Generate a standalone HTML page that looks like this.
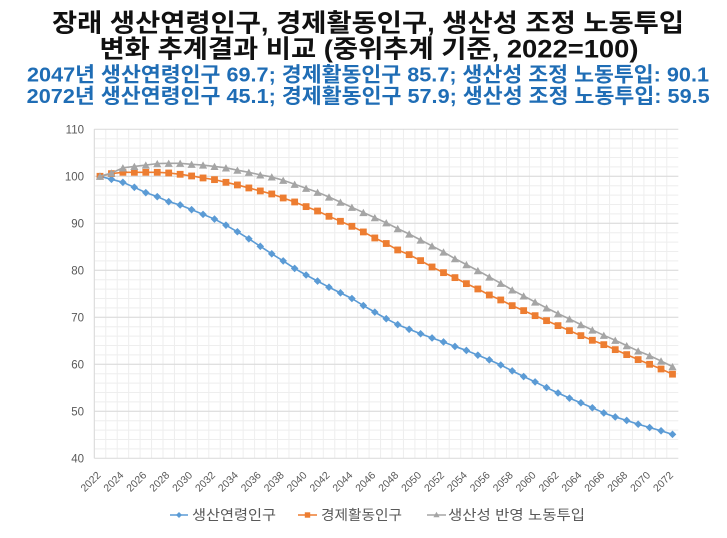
<!DOCTYPE html>
<html lang="ko">
<head>
<meta charset="utf-8">
<style>
  html,body{margin:0;padding:0;background:#fff;}
  svg{display:block;}
  text{font-family:"Liberation Sans","Noto Sans CJK KR",sans-serif;}
</style>
</head>
<body>
<svg width="727" height="538" viewBox="0 0 727 538" xmlns="http://www.w3.org/2000/svg">
  <defs>
    <marker id="md" markerWidth="10" markerHeight="10" refX="5" refY="5" markerUnits="userSpaceOnUse">
      <path d="M5 1.2 L8.8 5 L5 8.8 L1.2 5Z" fill="#5B9BD5"/>
    </marker>
    <marker id="ms" markerWidth="10" markerHeight="10" refX="5" refY="5" markerUnits="userSpaceOnUse">
      <rect x="1.6" y="1.6" width="6.8" height="6.8" fill="#ED7D31"/>
    </marker>
    <marker id="mt" markerWidth="10" markerHeight="10" refX="5" refY="5" markerUnits="userSpaceOnUse">
      <path d="M5 1.3 L9.1 8.6 L0.9 8.6Z" fill="#A5A5A5"/>
    </marker>
    <marker id="lmd" markerWidth="8" markerHeight="8" refX="4" refY="4" markerUnits="userSpaceOnUse">
      <path d="M4 1 L7 4 L4 7 L1 4Z" fill="#5B9BD5"/>
    </marker>
  </defs>

  <rect width="727" height="538" fill="#fff"/>

  <!-- Titles -->
  <text x="368" y="31.5" font-size="25" font-weight="bold" fill="#111" text-anchor="middle" textLength="632" lengthAdjust="spacingAndGlyphs">장래 생산연령인구, 경제활동인구, 생산성 조정 노동투입</text>
  <text x="369" y="57.5" font-size="25" font-weight="bold" fill="#111" text-anchor="middle" textLength="539" lengthAdjust="spacingAndGlyphs">변화 추계결과 비교 (중위추계 기준, 2022=100)</text>
  <text x="368" y="81.5" font-size="20.5" font-weight="bold" fill="#1F6DB5" text-anchor="middle" textLength="682" lengthAdjust="spacingAndGlyphs">2047년 생산연령인구 69.7; 경제활동인구 85.7; 생산성 조정 노동투입: 90.1</text>
  <text x="368.2" y="103" font-size="20.5" font-weight="bold" fill="#1F6DB5" text-anchor="middle" textLength="683" lengthAdjust="spacingAndGlyphs">2072년 생산연령인구 45.1; 경제활동인구 57.9; 생산성 조정 노동투입: 59.5</text>

  <!-- Minor gridlines -->
  <path stroke="#eeeeee" stroke-width="1" fill="none" d="M94.3 129.3v329m11.45 -329v329m11.45 -329v329m11.45 -329v329m11.45 -329v329m11.45 -329v329m11.45 -329v329m11.45 -329v329m11.45 -329v329m11.45 -329v329m11.45 -329v329m11.45 -329v329m11.45 -329v329m11.45 -329v329m11.45 -329v329m11.45 -329v329m11.45 -329v329m11.45 -329v329m11.45 -329v329m11.45 -329v329m11.45 -329v329m11.45 -329v329m11.45 -329v329m11.45 -329v329m11.45 -329v329m11.45 -329v329m11.45 -329v329m11.45 -329v329m11.45 -329v329m11.45 -329v329m11.45 -329v329m11.45 -329v329m11.45 -329v329m11.45 -329v329m11.45 -329v329m11.45 -329v329m11.45 -329v329m11.45 -329v329m11.45 -329v329m11.45 -329v329m11.45 -329v329m11.45 -329v329m11.45 -329v329m11.45 -329v329m11.45 -329v329m11.45 -329v329m11.45 -329v329m11.45 -329v329m11.45 -329v329m11.45 -329v329m11.45 -329v329"/>
  <path stroke="#eeeeee" stroke-width="1" fill="none" d="M94.3 138.7h584m-584 9.4h584m-584 9.4h584m-584 9.4h584m-584 9.4h584m-584 9.4h584m-584 9.4h584m-584 9.4h584m-584 9.4h584m-584 9.4h584m-584 9.4h584m-584 9.4h584m-584 9.4h584m-584 9.4h584m-584 9.4h584m-584 9.4h584m-584 9.4h584m-584 9.4h584m-584 9.4h584m-584 9.4h584m-584 9.4h584m-584 9.4h584m-584 9.4h584m-584 9.4h584m-584 9.4h584m-584 9.4h584m-584 9.4h584m-584 9.4h584m-584 9.4h584m-584 9.4h584m-584 9.4h584m-584 9.4h584m-584 9.4h584m-584 9.4h584"/>

  <!-- Major gridlines -->
  <path stroke="#d9d9d9" stroke-width="1" fill="none" d="M94.3 129.3h584M94.3 176.3h584M94.3 223.3h584M94.3 270.3h584M94.3 317.3h584M94.3 364.3h584M94.3 411.3h584M94.3 458.3h584M94.3 129.3V458.3"/>

  <!-- Y labels -->
  <g font-size="11.5" fill="#595959" text-anchor="end">
    <text x="84" y="133.5">110</text>
    <text x="84" y="180.5">100</text>
    <text x="84" y="227.5">90</text>
    <text x="84" y="274.5">80</text>
    <text x="84" y="321.5">70</text>
    <text x="84" y="368.5">60</text>
    <text x="84" y="415.5">50</text>
    <text x="84" y="462.5">40</text>
  </g>

  <!-- X labels -->
  <g font-size="10.5" fill="#595959" text-anchor="middle">
    <text transform="translate(90.5 481.5) rotate(-45)" y="3.7">2022</text>
    <text transform="translate(113.4 481.5) rotate(-45)" y="3.7">2024</text>
    <text transform="translate(136.3 481.5) rotate(-45)" y="3.7">2026</text>
    <text transform="translate(159.2 481.5) rotate(-45)" y="3.7">2028</text>
    <text transform="translate(182.1 481.5) rotate(-45)" y="3.7">2030</text>
    <text transform="translate(205 481.5) rotate(-45)" y="3.7">2032</text>
    <text transform="translate(227.9 481.5) rotate(-45)" y="3.7">2034</text>
    <text transform="translate(250.8 481.5) rotate(-45)" y="3.7">2036</text>
    <text transform="translate(273.7 481.5) rotate(-45)" y="3.7">2038</text>
    <text transform="translate(296.6 481.5) rotate(-45)" y="3.7">2040</text>
    <text transform="translate(319.5 481.5) rotate(-45)" y="3.7">2042</text>
    <text transform="translate(342.4 481.5) rotate(-45)" y="3.7">2044</text>
    <text transform="translate(365.3 481.5) rotate(-45)" y="3.7">2046</text>
    <text transform="translate(388.2 481.5) rotate(-45)" y="3.7">2048</text>
    <text transform="translate(411.1 481.5) rotate(-45)" y="3.7">2050</text>
    <text transform="translate(434 481.5) rotate(-45)" y="3.7">2052</text>
    <text transform="translate(456.9 481.5) rotate(-45)" y="3.7">2054</text>
    <text transform="translate(479.8 481.5) rotate(-45)" y="3.7">2056</text>
    <text transform="translate(502.7 481.5) rotate(-45)" y="3.7">2058</text>
    <text transform="translate(525.6 481.5) rotate(-45)" y="3.7">2060</text>
    <text transform="translate(548.5 481.5) rotate(-45)" y="3.7">2062</text>
    <text transform="translate(571.4 481.5) rotate(-45)" y="3.7">2064</text>
    <text transform="translate(594.3 481.5) rotate(-45)" y="3.7">2066</text>
    <text transform="translate(617.2 481.5) rotate(-45)" y="3.7">2068</text>
    <text transform="translate(640.1 481.5) rotate(-45)" y="3.7">2070</text>
    <text transform="translate(663 481.5) rotate(-45)" y="3.7">2072</text>
  </g>

  <!-- Series: 생산연령인구 (blue) -->
  <polyline fill="none" stroke="#5B9BD5" stroke-width="1.6" stroke-linejoin="round" marker-start="url(#md)" marker-mid="url(#md)" marker-end="url(#md)"
    points="100,176.3 111.45,179.31 122.9,182.32 134.35,187.3 145.8,192.66 157.25,196.65 168.7,201.68 180.15,204.97 191.6,209.67 203.05,214.37 214.5,219.07 225.95,225.18 237.4,231.76 248.85,238.81 260.3,246.33 271.75,253.85 283.2,260.9 294.65,268.42 306.1,275 317.55,281.11 329,287.22 340.45,292.86 351.9,298.5 363.35,305.55 374.8,312.13 386.25,318.71 397.7,324.59 409.15,329.29 420.6,333.75 432.05,337.98 443.5,341.98 454.95,346.44 466.4,350.44 477.85,355.14 489.3,359.84 500.75,365.01 512.2,370.88 523.65,376.52 535.1,381.93 546.55,387.57 558,392.97 569.45,398.14 580.9,402.84 592.35,407.78 603.8,412.95 615.25,416.94 626.7,420.47 638.15,424.23 649.6,427.52 661.05,430.81 672.5,434.33"/>

  <!-- Series: 경제활동인구 (orange) -->
  <polyline fill="none" stroke="#ED7D31" stroke-width="1.6" stroke-linejoin="round" marker-start="url(#ms)" marker-mid="url(#ms)" marker-end="url(#ms)"
    points="100,176.3 111.45,173.62 122.9,172.3 134.35,172.3 145.8,172.3 157.25,172.3 168.7,172.96 180.15,174.28 191.6,175.97 203.05,177.95 214.5,179.64 225.95,182.32 237.4,184.95 248.85,187.96 260.3,190.96 271.75,193.97 283.2,197.97 294.65,201.96 306.1,206.62 317.55,210.99 329,216.3 340.45,221.28 351.9,226.31 363.35,231.95 374.8,237.96 386.25,243.51 397.7,249.95 409.15,254.65 420.6,260.62 432.05,266.96 443.5,272.65 454.95,277.63 466.4,283.65 477.85,288.96 489.3,294.98 500.75,299.96 512.2,305.64 523.65,310.63 535.1,315.66 546.55,320.64 558,325.62 569.45,330.65 580.9,335.63 592.35,340.28 603.8,344.65 615.25,349.64 626.7,354.62 638.15,359.6 649.6,364.3 661.05,369 672.5,374.17"/>

  <!-- Series: 생산성 반영 노동투입 (gray) -->
  <polyline fill="none" stroke="#A5A5A5" stroke-width="1.6" stroke-linejoin="round" marker-start="url(#mt)" marker-mid="url(#mt)" marker-end="url(#mt)"
    points="100,176.3 111.45,173.01 122.9,167.84 134.35,166.43 145.8,165.02 157.25,163.61 168.7,163.33 180.15,163.33 191.6,164.31 203.05,165.02 214.5,166.43 225.95,167.84 237.4,170.19 248.85,172.3 260.3,174.89 271.75,176.96 283.2,180.3 294.65,184.29 306.1,188.29 317.55,192.28 329,196.98 340.45,202.15 351.9,207.32 363.35,212.49 374.8,217.66 386.25,222.83 397.7,228.61 409.15,233.97 420.6,239.99 432.05,245.95 443.5,251.97 454.95,258.64 466.4,264.61 477.85,270.63 489.3,276.97 500.75,283.32 512.2,289.95 523.65,295.96 535.1,301.98 546.55,307.95 558,313.63 569.45,318.95 580.9,324.63 592.35,329.99 603.8,335.3 615.25,340.28 626.7,345.64 638.15,350.95 649.6,355.65 661.05,361.01 672.5,366.65"/>

  <!-- Legend -->
  <line x1="170" y1="515" x2="188" y2="515" stroke="#5B9BD5" stroke-width="1.6"/>
  <path d="M179 512 L182 515 L179 518 L176 515Z" fill="#5B9BD5"/>
  <text x="192" y="520" font-size="14" fill="#595959" textLength="84" lengthAdjust="spacingAndGlyphs">생산연령인구</text>

  <line x1="298" y1="515" x2="317" y2="515" stroke="#ED7D31" stroke-width="1.6"/>
  <rect x="304.8" y="512.3" width="5.4" height="5.4" fill="#ED7D31"/>
  <text x="321" y="520" font-size="14" fill="#595959" textLength="81" lengthAdjust="spacingAndGlyphs">경제활동인구</text>

  <line x1="427" y1="515" x2="446" y2="515" stroke="#A5A5A5" stroke-width="1.6"/>
  <path d="M436.5 511.8 L439.6 517.3 L433.4 517.3Z" fill="#A5A5A5"/>
  <text x="448" y="520" font-size="14" fill="#595959" textLength="137" lengthAdjust="spacingAndGlyphs">생산성 반영 노동투입</text>
</svg>
</body>
</html>
